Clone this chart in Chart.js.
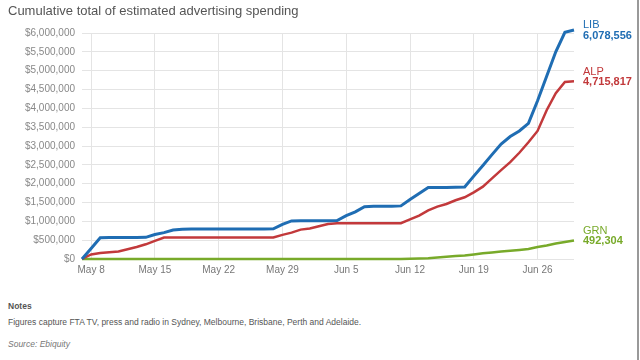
<!DOCTYPE html>
<html>
<head>
<meta charset="utf-8">
<script src="https://cdn.jsdelivr.net/npm/chart.js@4"></script>
<style>
  html, body { margin:0; padding:0; background:#fff; width:640px; height:360px; overflow:hidden; font-family:"Liberation Sans", Arial, sans-serif; }
  #title { position:absolute; left:8px; top:3px; font-size:13px; color:#555; }
  #wrap { position:absolute; left:0; top:0; width:640px; height:282px; }
  #notes { position:absolute; left:8px; top:301px; font-size:8.5px; color:#555; }
  #notes .h { font-weight:bold; font-size:8.5px; color:#555; }
  #notes .t { margin-top:6px; }
  #notes .s { margin-top:12px; font-style:italic; color:#777; }
  #edge { position:absolute; left:637px; top:0; width:2px; height:360px; background:#999; }
</style>
</head>
<body>
<div id="wrap"><canvas id="c" width="640" height="282"></canvas></div>
<div id="title">Cumulative total of estimated advertising spending</div>
<div id="notes">
  <div class="h">Notes</div>
  <div class="t">Figures capture FTA TV, press and radio in Sydney, Melbourne, Brisbane, Perth and Adelaide.</div>
  <div class="s">Source: Ebiquity</div>
</div>
<div id="edge"></div>
<script>
const dates = ["May 7","May 8","May 9","May 10","May 11","May 12","May 13","May 14","May 15","May 16",
  "May 17","May 18","May 19","May 20","May 21","May 22","May 23","May 24","May 25","May 26",
  "May 27","May 28","May 29","May 30","May 31","Jun 1","Jun 2","Jun 3","Jun 4","Jun 5",
  "Jun 6","Jun 7","Jun 8","Jun 9","Jun 10","Jun 11","Jun 12","Jun 13","Jun 14","Jun 15",
  "Jun 16","Jun 17","Jun 18","Jun 19","Jun 20","Jun 21","Jun 22","Jun 23","Jun 24","Jun 25",
  "Jun 26","Jun 27","Jun 28","Jun 29","Jun 30"];
const tickDates = ["May 8","May 15","May 22","May 29","Jun 5","Jun 12","Jun 19","Jun 26"];
const lib = [0,280000,566000,570000,570000,570000,570000,575000,650000,700000,
  770000,790000,795000,795000,795000,795000,795000,795000,795000,797000,
  797000,800000,920000,1010000,1015000,1015000,1015000,1015000,1020000,1150000,
  1250000,1390000,1400000,1400000,1400000,1410000,1580000,1740000,1900000,1900000,
  1900000,1905000,1910000,2200000,2480000,2770000,3050000,3250000,3400000,3600000,
  4200000,4850000,5500000,6020000,6078556];
const alp = [0,120000,160000,180000,200000,260000,320000,390000,480000,570000,
  570000,570000,570000,570000,570000,570000,570000,570000,570000,570000,
  570000,570000,640000,700000,780000,810000,870000,930000,950000,950000,
  950000,950000,950000,950000,950000,950000,1050000,1150000,1290000,1390000,
  1460000,1560000,1640000,1770000,1920000,2140000,2360000,2570000,2820000,3100000,
  3400000,3950000,4400000,4700000,4715817];
const grn = [0,0,0,0,0,0,0,0,0,0,
  0,0,0,0,0,0,0,0,0,0,
  0,0,0,0,0,0,0,0,0,0,
  0,0,0,0,0,0,5000,10000,20000,40000,
  60000,80000,95000,120000,150000,175000,200000,220000,240000,265000,
  320000,360000,410000,450000,492304];
const seriesNames = ["LIB","ALP","GRN"];
const yTicks = [0,500000,1000000,1500000,2000000,2500000,3000000,3500000,4000000,4500000,5000000,5500000,6000000];

const colors = ["#1f6db3","#c2393b","#78aa2a"];

const endLabels = {
  id:'endLabels',
  afterDatasetsDraw(chart){
    const ctx = chart.ctx;
    const xs = chart.scales.x, ys = chart.scales.y;
    const x = xs.right + 9;
    chart.data.datasets.forEach((ds,i)=>{
      const v = ds.data[ds.data.length-1];
      let yv = ys.getPixelForValue(v);
      let yn = yv - 9, yval = yv + 1;
      if (yn < 25) { yn = 25; yval = 36; }
      ctx.save();
      ctx.fillStyle = ds.borderColor;
      ctx.textBaseline = 'middle';
      ctx.textAlign = 'left';
      ctx.font = '11px "Liberation Sans", Arial, sans-serif';
      ctx.fillText(ds.label, x, yn);
      ctx.font = 'bold 11px "Liberation Sans", Arial, sans-serif';
      ctx.fillText(v.toLocaleString('en-US'), x, yval);
      ctx.restore();
    });
  }
};

new Chart(document.getElementById('c'), {
  type:'line',
  data:{
    labels: dates,
    datasets:[
      {label:seriesNames[0], data:lib, borderColor:colors[0], borderWidth:3, pointRadius:0, tension:0, clip:false, order:1},
      {label:seriesNames[1], data:alp, borderColor:colors[1], borderWidth:2.5, pointRadius:0, tension:0, clip:false, order:2},
      {label:seriesNames[2], data:grn, borderColor:colors[2], borderWidth:2.5, pointRadius:0, tension:0, clip:false, order:3}
    ]
  },
  options:{
    responsive:false,
    animation:false,
    layout:{padding:{left:0,right:66,top:33,bottom:0}},
    plugins:{legend:{display:false}, tooltip:{enabled:false}},
    scales:{
      x:{
        offset:false,
        grid:{color:'#e4e4e4', drawTicks:false},
        border:{display:false},
        ticks:{
          autoSkip:false, maxRotation:0, padding:5,
          color:'#777', font:{size:10, family:'"Liberation Sans", Arial, sans-serif'},
          callback:function(v,i){ const l=dates[i]; return tickDates.includes(l) ? l : null; }
        },
        afterFit(s){ s.height = 23; }
      },
      y:{
        min:0, max:6000000,
        grid:{color:'#e4e4e4', drawTicks:false},
        border:{display:false},
        afterBuildTicks(s){ s.ticks = yTicks.map(v=>({value:v})); },
        ticks:{
          padding:7, color:'#888', font:{size:10, family:'"Liberation Sans", Arial, sans-serif'},
          callback:v=>'$'+Number(v).toLocaleString('en-US')
        },
        afterFit(s){ s.width = 82; }
      }
    }
  },
  plugins:[endLabels]
});
</script>
</body>
</html>
